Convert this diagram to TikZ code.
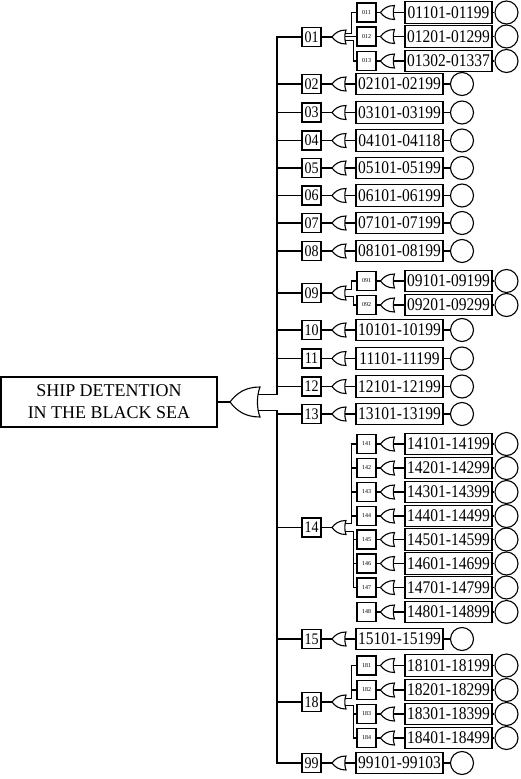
\documentclass[tikz,border=0pt]{standalone}
\usepackage{fontspec}
\setmainfont{Liberation Serif}
\newcommand{\tallify}[1]{\scalebox{1}[1.15]{#1}}
\tikzset{
  wire/.style={line width=1.1pt},
  lbl/.style={draw, line width=1.1pt, minimum width=19pt, minimum height=19pt, inner sep=0pt, font=\fontsize{14}{15}\selectfont},
  sublbl/.style={lbl, font=\fontsize{6}{7}\selectfont},
  rng/.style={draw, line width=1.1pt, minimum width=87pt, minimum height=21.5pt, inner sep=0pt, font=\fontsize{15.5}{16}\selectfont},
  ev/.style={draw, circle, line width=1.1pt, minimum size=23pt, inner sep=0pt},
  rootbox/.style={draw, line width=1.1pt, minimum width=216pt, minimum height=50pt, inner sep=0pt, align=center, font=\fontsize{18}{22}\selectfont},
  orgate/.pic={
    \draw[line width=1.1pt] (-7,0) .. controls (-4,-4) and (0,-7) .. (7,-7)
      .. controls (5.4,-3) and (5.4,3) .. (7,7)
      .. controls (0,7) and (-4,4) .. (-7,0) -- cycle;
    \coordinate (-tip) at (-7,0);
    \coordinate (-back) at (5.8,0);
    \coordinate (-up) at (6.1,-3.6);
    \coordinate (-dn) at (6.1,3.8);
  }
}
\begin{document}
\begin{tikzpicture}[x=1pt,y=-1pt]
\useasboundingbox (0,0) rectangle (520,779);
% root
\node[rootbox] (root) at (109,402) {SHIP DETENTION\\IN THE BLACK SEA};
\pic[scale=2.1429] (groot) at (245,402) {orgate};
\draw[wire] (root) -- (groot-tip);
\coordinate (trunkx) at (277,0);
\coordinate (busu) at (351.5,0);
\coordinate (busd) at (353.5,0);
% simple rows
\foreach \id/\yy/\rng in {02/84/02101-02199, 03/112.5/03101-03199, 04/140.5/04101-04118,
  05/168/05101-05199, 06/195.5/06101-06199, 07/223/07101-07199, 08/251/08101-08199,
  10/330/10101-10199, 11/358.5/11101-11199, 12/386.5/12101-12199, 13/414/13101-13199,
  15/639/15101-15199, 99/763/99101-99103}{
  \node[lbl] (b\id) at (311.5,\yy) {\tallify{\id}};
  \pic (g\id) at (339,\yy) {orgate};
  \node[rng] (r\id) at (399.5,\yy) {\tallify{\rng}};
  \node[ev] (c\id) at (462,\yy) {};
  \draw[wire] (b\id) -- (g\id-tip);
  \draw[wire] (g\id-back) -- (r\id);
  \draw[wire] (r\id) -- (c\id);
}
% group heads
\foreach \id/\yy in {01/37, 09/293, 14/527.5, 18/702}{
  \node[lbl] (b\id) at (311.5,\yy) {\tallify{\id}};
  \pic (g\id) at (339,\yy) {orgate};
  \draw[wire] (b\id) -- (g\id-tip);
}
% sub rows
\foreach \sid/\yy/\rng in {011/12.5/01101-01199, 012/36.5/01201-01299, 013/61/01302-01337,
  091/281/09101-09199, 092/305/09201-09299,
  141/444/14101-14199, 142/468/14201-14299, 143/492/14301-14399, 144/516/14401-14499,
  145/539.5/14501-14599, 146/563.5/14601-14699, 147/587.5/14701-14799, 148/612/14801-14899,
  181/665.5/18101-18199, 182/690/18201-18299, 183/714/18301-18399, 184/738/18401-18499}{
  \node[sublbl] (s\sid) at (366.5,\yy) {\sid};
  \pic (gs\sid) at (387.5,\yy) {orgate};
  \node[rng] (rs\sid) at (448.5,\yy) {\tallify{\rng}};
  \node[ev] (cs\sid) at (506.5,\yy) {};
  \draw[wire] (s\sid) -- (gs\sid-tip);
  \draw[wire] (gs\sid-back) -- (rs\sid);
  \draw[wire] (rs\sid) -- (cs\sid);
}
% trunk
\draw[wire] (groot-up) -| (trunkx |- b01.west) -- (b01.west);
\draw[wire] (groot-dn) -| (trunkx |- b99.west) -- (b99.west);
\foreach \id in {02,03,04,05,06,07,08,09,10,11,12,13,14,15,18}{
  \draw[wire] (trunkx |- b\id.west) -- (b\id.west);
}
% group 01
\draw[wire] (g01-up) -| (busu |- s011.west) -- (s011.west);
\draw[wire] (g01-back |- s012.west) -- (s012.west);
\draw[wire] (g01-dn) -| (busd |- s013.west) -- (s013.west);
% group 09
\draw[wire] (g09-up) -| (busu |- s091.west) -- (s091.west);
\draw[wire] (g09-dn) -| (busd |- s092.west) -- (s092.west);
% group 14
\draw[wire] (g14-up) -| (busu |- s141.west) -- (s141.west);
\foreach \sid in {142,143,144}{\draw[wire] (busu |- s\sid.west) -- (s\sid.west);}
\draw[wire] (g14-dn) -| (busd |- s147.west) -- (s147.west);
\foreach \sid in {145,146}{\draw[wire] (busd |- s\sid.west) -- (s\sid.west);}
% group 18
\draw[wire] (g18-up) -| (busu |- s181.west) -- (s181.west);
\draw[wire] (busu |- s182.west) -- (s182.west);
\draw[wire] (g18-dn) -| (busd |- s184.west) -- (s184.west);
\draw[wire] (busd |- s183.west) -- (s183.west);
\end{tikzpicture}
\end{document}
